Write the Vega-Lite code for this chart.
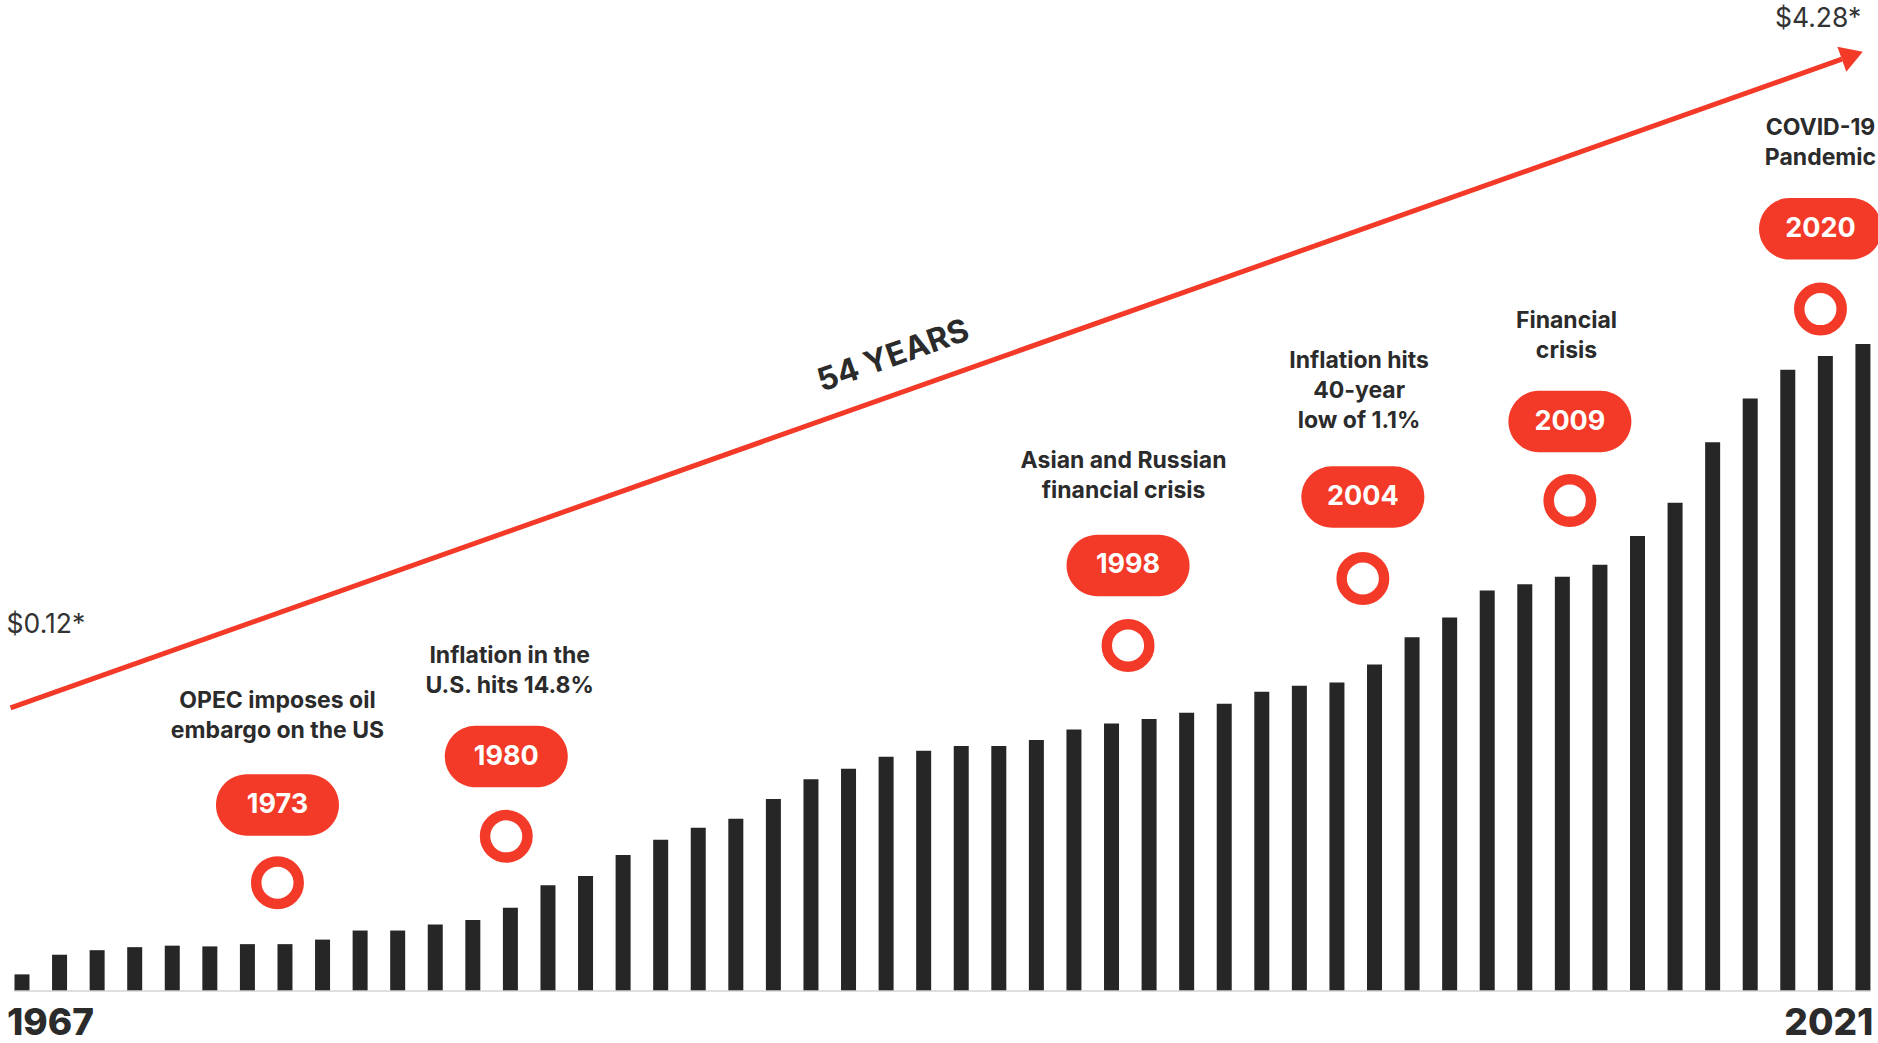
{
  "$schema": "https://vega.github.io/schema/vega-lite/v6.json",
  "autosize": {"type": "fit", "contains": "padding"},
  "width": 1878,
  "height": 1043,
  "padding": 0,
  "background": "#ffffff",
  "config": {"view": {"stroke": null}, "font": "Inter"},
  "datasets": {
    "bars": [
      {"bar": 0, "value": 0.11}, {"bar": 1, "value": 0.24}, {"bar": 2, "value": 0.27}, {"bar": 3, "value": 0.29},
      {"bar": 4, "value": 0.30}, {"bar": 5, "value": 0.295}, {"bar": 6, "value": 0.31}, {"bar": 7, "value": 0.31},
      {"bar": 8, "value": 0.34}, {"bar": 9, "value": 0.40}, {"bar": 10, "value": 0.40}, {"bar": 11, "value": 0.44},
      {"bar": 12, "value": 0.47}, {"bar": 13, "value": 0.55}, {"bar": 14, "value": 0.70}, {"bar": 15, "value": 0.76},
      {"bar": 16, "value": 0.90}, {"bar": 17, "value": 1.00}, {"bar": 18, "value": 1.08}, {"bar": 19, "value": 1.14},
      {"bar": 20, "value": 1.27}, {"bar": 21, "value": 1.40}, {"bar": 22, "value": 1.47}, {"bar": 23, "value": 1.55},
      {"bar": 24, "value": 1.59}, {"bar": 25, "value": 1.62}, {"bar": 26, "value": 1.62}, {"bar": 27, "value": 1.66},
      {"bar": 28, "value": 1.73}, {"bar": 29, "value": 1.77}, {"bar": 30, "value": 1.80}, {"bar": 31, "value": 1.84},
      {"bar": 32, "value": 1.90}, {"bar": 33, "value": 1.98}, {"bar": 34, "value": 2.02}, {"bar": 35, "value": 2.04},
      {"bar": 36, "value": 2.16}, {"bar": 37, "value": 2.34}, {"bar": 38, "value": 2.47}, {"bar": 39, "value": 2.65},
      {"bar": 40, "value": 2.69}, {"bar": 41, "value": 2.74}, {"bar": 42, "value": 2.82}, {"bar": 43, "value": 3.01},
      {"bar": 44, "value": 3.23}, {"bar": 45, "value": 3.63}, {"bar": 46, "value": 3.92}, {"bar": 47, "value": 4.11},
      {"bar": 48, "value": 4.20}, {"bar": 49, "value": 4.28}
    ],
    "baseline": [
      {"from": -0.2, "to": 49.2, "value": 0}
    ],
    "arrow": [
      {"bar": -0.303, "value": 1.873},
      {"bar": 48.44, "value": 6.164}
    ],
    "head": [
      {"bar": 48.718, "value": 6.189}
    ],
    "labels": [
      {"label": "$0.12*", "kind": "price", "bar": -0.41, "value": 2.421},
      {"label": "$4.28*", "kind": "price", "bar": 46.66, "value": 6.43},
      {"label": "54 YEARS", "kind": "span", "bar": 23.19, "value": 4.20},
      {"label": "1967", "kind": "start", "bar": -0.40, "value": -0.218},
      {"label": "2021", "kind": "end", "bar": 49.28, "value": -0.218}
    ],
    "events": [
      {"year": "1973", "bar": 6.80, "ring": 0.716, "pill": 1.230, "noteBar": 6.80, "noteValue": 1.921, "note": "OPEC imposes oil\nembargo on the US"},
      {"year": "1980", "bar": 12.89, "ring": 1.023, "pill": 1.551, "noteBar": 12.98, "noteValue": 2.216, "note": "Inflation in the\nU.S. hits 14.8%"},
      {"year": "1998", "bar": 29.44, "ring": 2.286, "pill": 2.815, "noteBar": 29.32, "noteValue": 3.506, "note": "Asian and Russian\nfinancial crisis"},
      {"year": "2004", "bar": 35.69, "ring": 2.729, "pill": 3.268, "noteBar": 35.59, "noteValue": 4.165, "note": "Inflation hits\n40-year\nlow of 1.1%"},
      {"year": "2009", "bar": 41.20, "ring": 3.244, "pill": 3.767, "noteBar": 41.11, "noteValue": 4.432, "note": "Financial\ncrisis"},
      {"year": "2020", "bar": 47.87, "ring": 4.511, "pill": 5.042, "noteBar": 47.87, "noteValue": 5.709, "note": "COVID-19\nPandemic"}
    ]
  },
  "layer": [
    {
      "data": {"name": "bars"},
      "mark": {"type": "bar", "orient": "vertical", "width": 15, "color": "#262626"},
      "encoding": {
        "x": {"field": "bar", "type": "quantitative", "axis": null,
              "scale": {"domain": [-0.5587, 49.4013], "nice": false, "zero": false, "padding": 0}},
        "y": {"field": "value", "type": "quantitative", "axis": null,
              "scale": {"domain": [-0.344, 6.5556], "nice": false, "zero": false}},
        "y2": {"datum": 0}
      }
    },
    {
      "data": {"name": "baseline"},
      "mark": {"type": "rule", "color": "#d4d4d4", "strokeWidth": 1.5},
      "encoding": {
        "x": {"field": "from", "type": "quantitative"},
        "x2": {"field": "to"},
        "y": {"field": "value", "type": "quantitative"}
      }
    },
    {
      "data": {"name": "arrow"},
      "mark": {"type": "line", "color": "#F33A29", "strokeWidth": 5, "strokeCap": "butt"},
      "encoding": {
        "x": {"field": "bar", "type": "quantitative"},
        "y": {"field": "value", "type": "quantitative"}
      }
    },
    {
      "data": {"name": "head"},
      "mark": {"type": "point", "shape": "M 0.84 0 L -0.84 -1 L -0.84 1 Z", "size": 702, "angle": 340.3,
               "filled": true, "fill": "#F33A29", "strokeWidth": 0, "opacity": 1},
      "encoding": {
        "x": {"field": "bar", "type": "quantitative"},
        "y": {"field": "value", "type": "quantitative"}
      }
    },
    {
      "data": {"name": "labels"},
      "transform": [{"filter": "datum.kind == 'price'"}],
      "mark": {"type": "text", "align": "left", "baseline": "middle", "fontSize": 26.5, "fontWeight": "normal", "letterSpacing": 0.5, "color": "#333333"},
      "encoding": {
        "x": {"field": "bar", "type": "quantitative"},
        "y": {"field": "value", "type": "quantitative"},
        "text": {"field": "label"}
      }
    },
    {
      "data": {"name": "labels"},
      "transform": [{"filter": "datum.kind == 'span'"}],
      "mark": {"type": "text", "align": "center", "baseline": "middle", "angle": 340.5, "fontSize": 32, "fontWeight": "bold", "letterSpacing": 3.5, "color": "#2b2b2b"},
      "encoding": {
        "x": {"field": "bar", "type": "quantitative"},
        "y": {"field": "value", "type": "quantitative"},
        "text": {"field": "label"}
      }
    },
    {
      "data": {"name": "labels"},
      "transform": [{"filter": "datum.kind == 'start'"}],
      "mark": {"type": "text", "align": "left", "baseline": "middle", "fontSize": 37, "fontWeight": 800, "letterSpacing": 0.5, "color": "#2b2b2b"},
      "encoding": {
        "x": {"field": "bar", "type": "quantitative"},
        "y": {"field": "value", "type": "quantitative"},
        "text": {"field": "label"}
      }
    },
    {
      "data": {"name": "labels"},
      "transform": [{"filter": "datum.kind == 'end'"}],
      "mark": {"type": "text", "align": "right", "baseline": "middle", "fontSize": 37, "fontWeight": 800, "letterSpacing": 0.5, "color": "#2b2b2b"},
      "encoding": {
        "x": {"field": "bar", "type": "quantitative"},
        "y": {"field": "value", "type": "quantitative"},
        "text": {"field": "label"}
      }
    },
    {
      "data": {"name": "events"},
      "mark": {"type": "point", "shape": "circle", "size": 1806, "filled": true, "fill": "#ffffff", "stroke": "#F33A29", "strokeWidth": 10.5, "opacity": 1},
      "encoding": {
        "x": {"field": "bar", "type": "quantitative"},
        "y": {"field": "ring", "type": "quantitative"}
      }
    },
    {
      "data": {"name": "events"},
      "mark": {"type": "point", "clip": true,
               "shape": "M -0.5 -0.5 L 0.5 -0.5 C 0.776 -0.5 1 -0.276 1 0 C 1 0.276 0.776 0.5 0.5 0.5 L -0.5 0.5 C -0.776 0.5 -1 0.276 -1 0 C -1 -0.276 -0.776 -0.5 -0.5 -0.5 Z",
               "size": 15129, "filled": true, "fill": "#F33A29", "strokeWidth": 0, "opacity": 1},
      "encoding": {
        "x": {"field": "bar", "type": "quantitative"},
        "y": {"field": "pill", "type": "quantitative"}
      }
    },
    {
      "data": {"name": "events"},
      "mark": {"type": "text", "clip": true, "align": "center", "baseline": "middle", "fontSize": 27, "fontWeight": "bold", "letterSpacing": 4.5, "color": "#ffffff"},
      "encoding": {
        "x": {"field": "bar", "type": "quantitative"},
        "y": {"field": "pill", "type": "quantitative"},
        "text": {"field": "year"}
      }
    },
    {
      "data": {"name": "events"},
      "mark": {"type": "text", "clip": true, "align": "center", "baseline": "middle", "lineBreak": "\n", "lineHeight": 30, "fontSize": 23, "fontWeight": "bold", "letterSpacing": 2.2, "color": "#2b2b2b"},
      "encoding": {
        "x": {"field": "noteBar", "type": "quantitative"},
        "y": {"field": "noteValue", "type": "quantitative"},
        "text": {"field": "note"}
      }
    }
  ]
}
